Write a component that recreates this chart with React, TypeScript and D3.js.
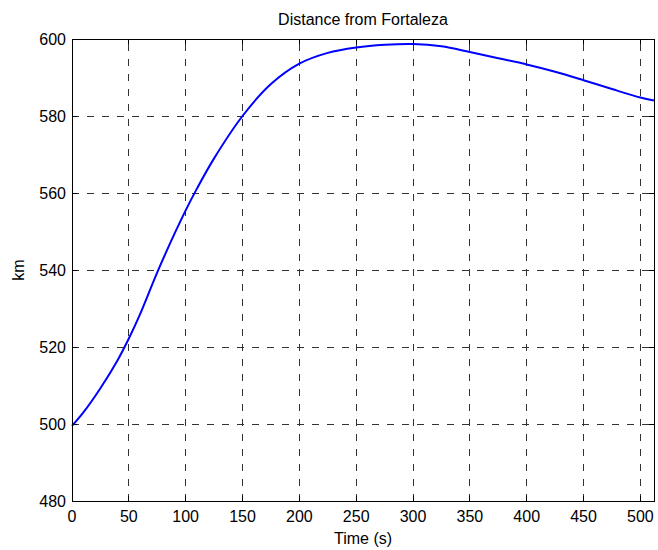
import * as d3 from "d3";

// time (s) and distance (km)
const times = [0, 10, 25, 40, 50, 60, 75, 90, 100, 110, 125, 150, 175, 200, 225, 250, 275, 300, 325, 350, 375, 400, 425, 450, 475, 500, 512];
const dist = [499.5, 503, 509.3, 516.5, 522.2, 528.6, 539.4, 549.3, 555.5, 561.2, 569, 580, 588.3, 593.6, 596.4, 597.8, 598.5, 598.7, 598.1, 596.6, 595, 593.4, 591.5, 589.3, 587, 584.8, 584];

const xTicks = [0, 50, 100, 150, 200, 250, 300, 350, 400, 450, 500];
const yTicks = [480, 500, 520, 540, 560, 580, 600];

const title = "Distance from Fortaleza";
const xLabel = "Time (s)";
const yLabel = "km";

export default function App() {
  const width = 658;
  const height = 550;
  const marginLeft = 72;
  const marginRight = 4;
  const marginTop = 39;
  const marginBottom = 49;

  const x = d3.scaleLinear().domain([0, 512]).range([marginLeft, width - marginRight]);
  const y = d3.scaleLinear().domain([480, 600]).range([height - marginBottom, marginTop]);

  const data = times.map((t, i) => ({ t, v: dist[i] }));
  const line = d3
    .line<{ t: number; v: number }>()
    .x((d) => x(d.t))
    .y((d) => y(d.v))
    .curve(d3.curveCatmullRom.alpha(0.5));

  const x0 = x.range()[0];
  const x1 = x.range()[1];
  const y0 = y.range()[0];
  const y1 = y.range()[1];
  const tickLen = 5;
  const font = "'Liberation Sans', Arial, Helvetica, sans-serif";

  return (
    <svg
      width={width}
      height={height}
      style={{ position: "absolute", left: 0, top: 0, background: "#fff" }}
      fontFamily={font}
    >
      <rect x={0} y={0} width={width} height={height} fill="#fff" />
      {/* grid */}
      <g stroke="#333" strokeWidth={1} strokeDasharray="7,8" shapeRendering="crispEdges">
        {xTicks.slice(1).map((t) => (
          <line key={"gx" + t} x1={x(t)} x2={x(t)} y1={y0} y2={y1} />
        ))}
        {yTicks.slice(1, -1).map((v) => (
          <line key={"gy" + v} x1={x0} x2={x1} y1={y(v)} y2={y(v)} />
        ))}
      </g>
      {/* ticks */}
      <g stroke="#000" strokeWidth={1} shapeRendering="crispEdges">
        {xTicks.map((t) => (
          <g key={"tx" + t}>
            <line x1={x(t)} x2={x(t)} y1={y0} y2={y0 - tickLen} />
            <line x1={x(t)} x2={x(t)} y1={y1} y2={y1 + tickLen} />
          </g>
        ))}
        {yTicks.map((v) => (
          <g key={"ty" + v}>
            <line x1={x0} x2={x0 + tickLen} y1={y(v)} y2={y(v)} />
            <line x1={x1} x2={x1 - tickLen} y1={y(v)} y2={y(v)} />
          </g>
        ))}
      </g>
      {/* data line */}
      <path d={line(data) ?? ""} fill="none" stroke="#0000ff" strokeWidth={2} />
      {/* box */}
      <rect
        x={x0}
        y={y1}
        width={x1 - x0}
        height={y0 - y1}
        fill="none"
        stroke="#000"
        strokeWidth={1}
        shapeRendering="crispEdges"
      />
      {/* tick labels */}
      <g fontSize={16} fill="#000">
        {xTicks.map((t) => (
          <text key={"lx" + t} x={x(t)} y={y0 + 21} textAnchor="middle">
            {t}
          </text>
        ))}
        {yTicks.map((v) => (
          <text key={"ly" + v} x={x0 - 6} y={y(v)} dy="0.35em" textAnchor="end">
            {v}
          </text>
        ))}
      </g>
      <text x={(x0 + x1) / 2} y={25} textAnchor="middle" fontSize={16}>
        {title}
      </text>
      <text x={(x0 + x1) / 2} y={544} textAnchor="middle" fontSize={16}>
        {xLabel}
      </text>
      <text
        transform={`translate(24,${(y0 + y1) / 2}) rotate(-90)`}
        textAnchor="middle"
        fontSize={16}
      >
        {yLabel}
      </text>
    </svg>
  );
}
